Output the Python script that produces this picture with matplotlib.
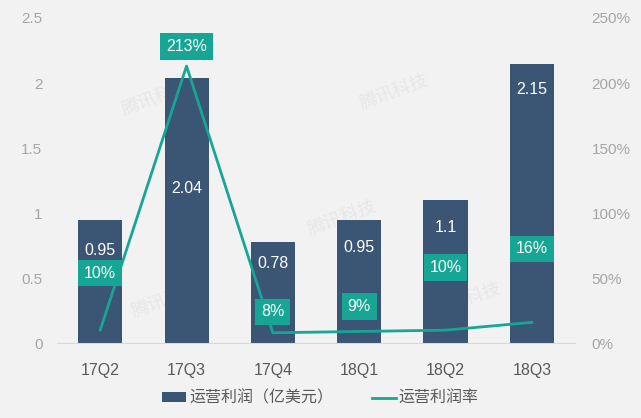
import numpy as np
import matplotlib
matplotlib.use('Agg')
import matplotlib.pyplot as plt

plt.rcParams['font.family'] = ['Liberation Sans', 'Noto Sans CJK SC', 'DejaVu Sans']

# data
quarters = ['17Q2', '17Q3', '17Q4', '18Q1', '18Q2', '18Q3']
profit = [0.95, 2.04, 0.78, 0.95, 1.1, 2.15]        # 亿美元
margin = [0.10, 2.13, 0.08, 0.09, 0.10, 0.16]       # 运营利润率
margin_labels = ['10%', '213%', '8%', '9%', '10%', '16%']

# label placement (points) relative to the marks
profit_label_off = [-22, -80, -16, -20, -20, -19]
margin_label_off = [41, 14, 15, 18, 45, 53]

bar_color = '#3B5574'
teal = '#17A696'
bg = '#F2F2F2'

fig = plt.figure(figsize=(6.41, 4.18), dpi=100, facecolor=bg)
ax = fig.add_axes([0.089, 0.179, 0.808, 0.778], facecolor=bg)
ax2 = ax.twinx()

x = np.arange(len(quarters))

# faint watermarks
for wx, wy in [(0.12, 0.70), (0.58, 0.72), (0.14, 0.08), (0.72, 0.08), (0.48, 0.33)]:
    ax.text(wx, wy, '腾讯科技', transform=ax.transAxes, rotation=20, fontsize=13,
            color='#E7E7E7', zorder=0, family=['Noto Sans CJK SC'])

bars = ax.bar(x, profit, width=0.51, color=bar_color, zorder=2, label='运营利润（亿美元）')
for xi, v, off in zip(x, profit, profit_label_off):
    ax.annotate(f'{v:g}', (xi, v), xytext=(0, off), textcoords='offset points',
                ha='center', va='center', color='white', fontsize=11.5, zorder=3)

ax.set_xlim(-0.5, len(quarters) - 0.5)
ax.set_ylim(0, 2.5)
ax.set_yticks([0, 0.5, 1, 1.5, 2, 2.5])
ax.set_yticklabels(['0', '0.5', '1', '1.5', '2', '2.5'])
ax.set_xticks(x)
ax.set_xticklabels(quarters)

line, = ax2.plot(x, margin, color=teal, lw=2, zorder=4, label='运营利润率')
ax2.set_ylim(0, 2.5)
ax2.set_yticks([0, 0.5, 1, 1.5, 2, 2.5])
ax2.set_yticklabels(['0%', '50%', '100%', '150%', '200%', '250%'])
for xi, v, lab, off in zip(x, margin, margin_labels, margin_label_off):
    ax2.annotate(lab, (xi, v), xytext=(0, off), textcoords='offset points',
                 ha='center', va='center', color='white', fontsize=11.5, zorder=5,
                 bbox=dict(boxstyle='square,pad=0.36', fc=teal, ec='none'))

for a in (ax, ax2):
    for s in a.spines.values():
        s.set_visible(False)
ax.spines['bottom'].set_visible(True)
ax.spines['bottom'].set_color('#D9D9D9')
ax.tick_params(axis='y', length=0, labelcolor='#A6A6A6', labelsize=11, pad=10.5)
ax.tick_params(axis='x', length=0, labelcolor='#595959', labelsize=11.5, pad=14)
ax2.tick_params(axis='y', length=0, labelcolor='#A6A6A6', labelsize=11, pad=12)

fig.legend(handles=[bars, line], loc='lower center', bbox_to_anchor=(0.5, -0.005),
           ncol=2, frameon=False, fontsize=11.5, handlelength=1.5, handleheight=0.5,
           columnspacing=2.4, handletextpad=0.2, labelcolor='#595959')

fig.savefig('out.png', dpi=100, facecolor=bg)
